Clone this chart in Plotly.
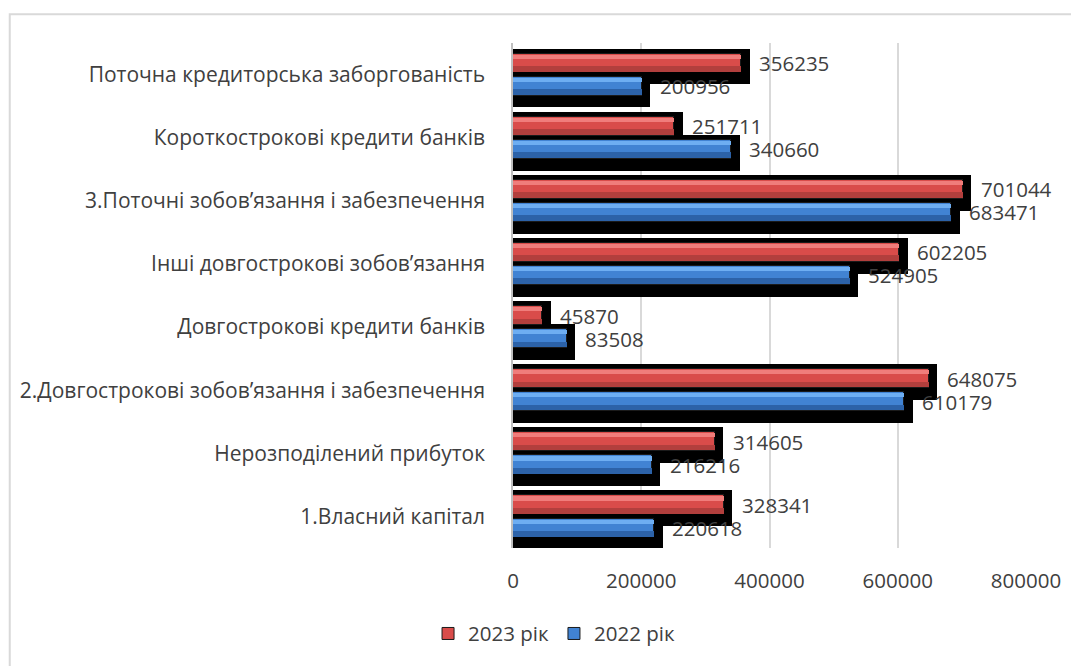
import plotly.graph_objects as go

categories = [
    "1.Власний капітал",
    "Нерозподілений прибуток",
    "2.Довгострокові зобов’язання і забезпечення",
    "Довгострокові кредити банків",
    "Інші довгострокові зобов’язання",
    "3.Поточні зобов’язання і забезпечення",
    "Короткострокові кредити банків",
    "Поточна кредиторська заборгованість",
]
values_2023 = [328341, 314605, 648075, 45870, 602205, 701044, 251711, 356235]
values_2022 = [220618, 216216, 610179, 83508, 524905, 683471, 340660, 200956]
tick_values = [0, 200000, 400000, 600000, 800000]

FONT = "Open Sans"
TEXT = "#404040"
BAR_W = 0.298
SHADOW_W = 0.566
SHADOW_DX = 13300
SHADOW_DY = 0.055

series = [
    # name, values, centre offset in band, (light, mid, dark)
    ("2023 рік", values_2023, 0.183, ("#f07d7b", "#d94c4a", "#b23f3d")),
    ("2022 рік", values_2022, -0.183, ("#6eaef2", "#4183d3", "#2c62a8")),
]

pos = [i + 0.5 for i in range(len(categories))]

fig = go.Figure()

# shadows first
for name, vals, off, cols in series:
    centre = off - SHADOW_DY
    fig.add_trace(go.Bar(
        x=[v + SHADOW_DX for v in vals], y=pos, orientation="h",
        base=0, width=SHADOW_W, offset=centre - SHADOW_W / 2,
        marker=dict(color="black", line=dict(width=0)),
        showlegend=False, hoverinfo="skip",
    ))

for name, vals, off, cols in series:
    light, mid, dark = cols
    fig.add_trace(go.Bar(
        x=vals, y=pos, orientation="h", name=name,
        base=0, width=BAR_W, offset=off - BAR_W / 2,
        marker=dict(color=mid, line=dict(color="#1a1a1a", width=1)),
    ))
    # darker lower strip
    fig.add_trace(go.Bar(
        x=vals, y=pos, orientation="h",
        base=0, width=BAR_W * 0.3, offset=off - BAR_W / 2 + 0.012,
        marker=dict(color=dark, line=dict(width=0)),
        showlegend=False, hoverinfo="skip",
    ))
    # light upper strip
    fig.add_trace(go.Bar(
        x=vals, y=pos, orientation="h",
        base=0, width=BAR_W * 0.22, offset=off + BAR_W / 2 - 0.015 - BAR_W * 0.22,
        marker=dict(color=light, line=dict(width=0)),
        showlegend=False, hoverinfo="skip",
    ))

for name, vals, off, cols in series:
    for p, v in zip(pos, vals):
        fig.add_annotation(
            x=v, y=p + off, text=str(v), showarrow=False,
            xanchor="left", yanchor="middle", xshift=16,
            font=dict(family=FONT, size=20.5, color=TEXT),
        )

# light outer frame of the chart area
fig.add_shape(
    type="rect", xref="paper", yref="paper",
    x0=-0.981, x1=1.2, y0=-0.3, y1=1.057,
    line=dict(color="#d9d9d9", width=2), layer="below",
)

# page body has an 8px margin, so the figure is a little smaller
fig.update_layout(
    width=1071, height=658,
    margin=dict(l=505, r=53, t=35, b=114),
    paper_bgcolor="white", plot_bgcolor="white",
    barmode="overlay", bargap=0,
    font=dict(family=FONT, size=20.5, color=TEXT),
    showlegend=True,
    legend=dict(
        orientation="h", x=0.08, xanchor="center", y=-0.13, yanchor="top",
        font=dict(family=FONT, size=20.5, color=TEXT),
        itemwidth=30, traceorder="normal",
    ),
)
fig.update_xaxes(
    range=[0, 800000], tickvals=tick_values, ticktext=[str(t) for t in tick_values],
    showgrid=True, gridcolor="#d9d9d9", gridwidth=1.5, zeroline=False,
    showline=False, ticklabelstandoff=18,
    tickfont=dict(family=FONT, size=20.5, color=TEXT),
)
fig.update_yaxes(
    range=[0, 8], tickvals=pos, ticktext=categories,
    showgrid=False, zeroline=False,
    showline=True, linecolor="#bfbfbf", linewidth=1.5,
    ticklabelstandoff=22,
    tickfont=dict(family=FONT, size=21, color=TEXT),
)

fig.write_html("out.html")
